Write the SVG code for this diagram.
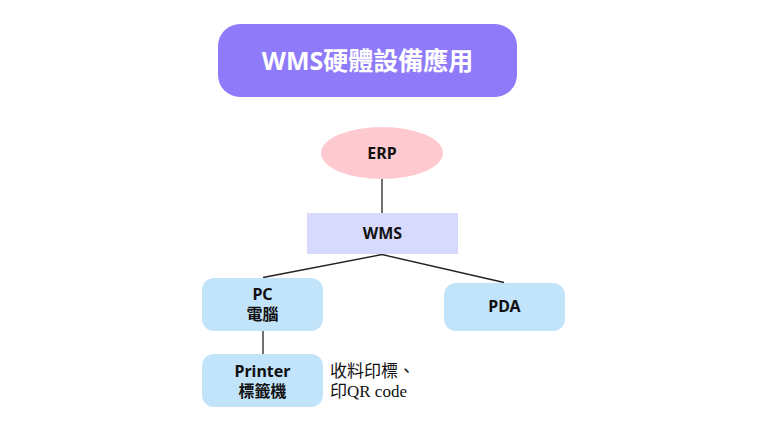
<svg xmlns="http://www.w3.org/2000/svg" width="768" height="432" viewBox="0 0 768 432">
<style>
.lbl{font-family:"Noto Sans","Noto Sans CJK TC",sans-serif;font-weight:700;font-size:16px;fill:#111;text-anchor:middle}
.box{fill:#C2E4FB}
.ln{stroke:#222;stroke-width:1.3;fill:none}
.note{font-family:"Liberation Serif","Noto Sans CJK TC",serif;font-size:17px;fill:#111}
</style>
<rect width="768" height="432" fill="#fff"/>
<g id="title">
<rect x="218" y="24" width="299" height="73" rx="22" fill="#8F7BFA"/>
<text x="367.5" y="70" style="font-family:'Noto Sans','Noto Sans CJK TC',sans-serif;font-weight:700;font-size:25px;fill:#fff;text-anchor:middle">WMS硬體設備應用</text>
</g>
<g id="connectors">
<line class="ln" x1="382" y1="179" x2="382" y2="213"/>
<line class="ln" x1="382" y1="254.5" x2="263" y2="277.5"/>
<line class="ln" x1="382" y1="254.5" x2="504" y2="282.5"/>
<line class="ln" x1="263" y1="331" x2="263" y2="354"/>
</g>
<g id="erp">
<ellipse cx="382" cy="153" rx="61" ry="26" fill="#FFCACF"/>
<text class="lbl" x="382" y="159">ERP</text>
</g>
<g id="wms">
<rect x="307" y="213" width="151" height="41" fill="#D8DAFD"/>
<text class="lbl" x="382.5" y="239">WMS</text>
</g>
<g id="pc">
<rect class="box" x="202" y="278" width="121" height="53" rx="12"/>
<text class="lbl" x="262.5" y="300">PC</text>
<text class="lbl" x="262.5" y="320">電腦</text>
</g>
<g id="pda">
<rect class="box" x="444" y="283" width="121" height="48" rx="12"/>
<text class="lbl" x="504.5" y="312">PDA</text>
</g>
<g id="printer">
<rect class="box" x="202" y="354" width="121" height="53" rx="12"/>
<text class="lbl" x="262.5" y="377">Printer</text>
<text class="lbl" x="262.5" y="397">標籤機</text>
</g>
<g id="note">
<text class="note" x="330" y="377">收料印標、</text>
<text class="note" x="330" y="397">印QR code</text>
</g>
</svg>
